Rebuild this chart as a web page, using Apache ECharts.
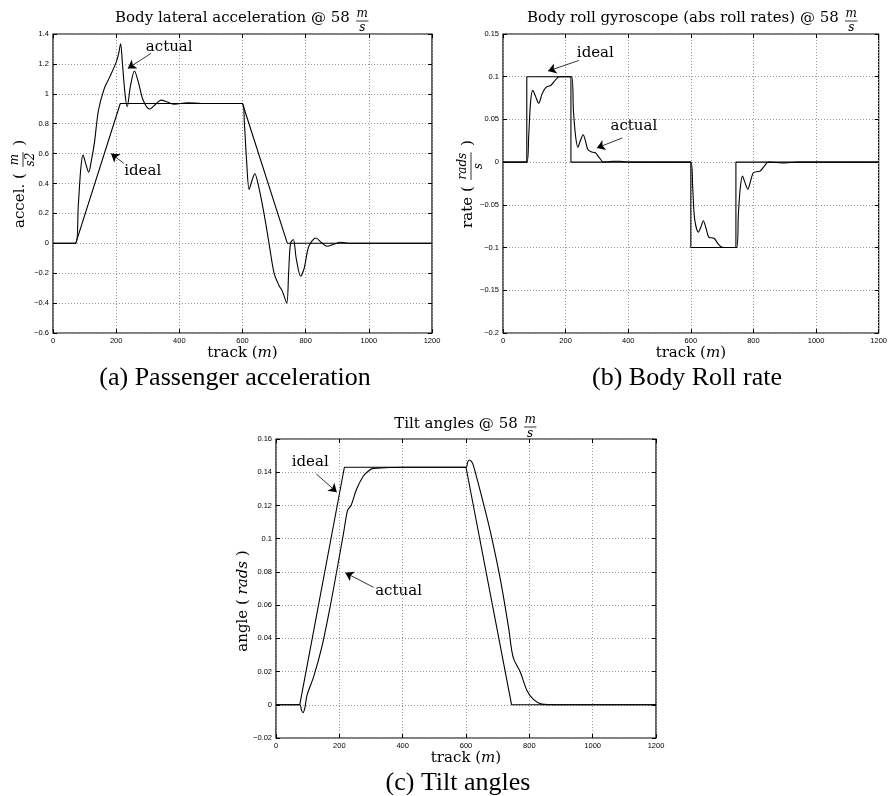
<!DOCTYPE html>
<html><head><meta charset="utf-8">
<script src="https://cdn.jsdelivr.net/npm/echarts@6/dist/echarts.min.js"></script>
<style>html,body{margin:0;padding:0;background:#fff}#c{width:890px;height:796px}</style>
</head><body><div id="c"></div>
<script>
// ---------- data ----------
const accelIdeal = [[0,0],[72,0],[213,0.935],[600,0.935],[742,0],[1200,0]];
const accelActual = [[0,0],[72,0],[80,0.25],[88,0.5],[95,0.59],[104,0.53],[113,0.475],[122,0.56],[131,0.67],[144,0.89],[163,1.04],[179,1.11],[200,1.21],[208,1.27],[214,1.335],[220,1.2],[228,1.0],[235,0.913],[245,1.05],[258,1.153],[270,1.08],[285,0.96],[305,0.898],[325,0.93],[342,0.958],[362,0.945],[384,0.93],[426,0.94],[470,0.935],[600,0.935],[606,0.8],[613,0.55],[621,0.36],[630,0.42],[639,0.465],[650,0.39],[668,0.2],[684,0],[700,-0.2],[715,-0.28],[726,-0.32],[740,-0.4],[746,-0.2],[752,0],[761,0.025],[770,-0.1],[784,-0.22],[795,-0.17],[810,-0.02],[832,0.035],[850,0.005],[868,-0.02],[890,-0.005],[910,0.007],[940,0],[1200,0]];

const rateIdeal = [[0,0],[76,0],[76,0.1],[217,0.1],[217,0],[600,0],[600,-0.1],[744,-0.1],[744,0],[1200,0]];
const rateActual = [[0,0],[76,0],[82,0.03],[88,0.07],[95,0.084],[104,0.077],[114,0.069],[125,0.08],[137,0.0876],[153,0.09],[165,0.095],[179,0.1],[219,0.1],[225,0.06],[232,0.03],[239,0.0174],[247,0.025],[256,0.032],[264,0.024],[271,0.0147],[283,0.012],[295,0.011],[308,0.005],[321,0],[350,0.001],[374,0.001],[405,0],[600,0],[606,-0.03],[612,-0.066],[624,-0.082],[632,-0.076],[640,-0.0686],[649,-0.078],[658,-0.088],[674,-0.089],[686,-0.095],[700,-0.0996],[746,-0.1],[752,-0.06],[758,-0.03],[765,-0.0163],[773,-0.024],[782,-0.0318],[791,-0.022],[800,-0.0124],[821,-0.0105],[834,-0.005],[847,0],[900,-0.001],[940,0],[1200,0]];

const tiltIdeal = [[0,0],[75,0],[216,0.143],[600,0.143],[744,0],[1200,0]];
const tiltActual = [[0,0],[75,0],[80,-0.003],[85,-0.0048],[91,-0.002],[98,0.0058],[119,0.0169],[145,0.035],[171,0.059],[198,0.087],[213,0.103],[226,0.117],[237,0.12],[255,0.13],[276,0.1377],[295,0.1412],[308,0.1423],[413,0.143],[600,0.143],[605,0.146],[611,0.1474],[617,0.1465],[623,0.1443],[650,0.125],[676,0.105],[708,0.076],[734,0.047],[745,0.032],[752,0.0269],[771,0.0199],[792,0.0088],[813,0.0032],[839,0.0004],[886,0],[1200,0]];

// annotations: [text, textX, textY, arrowFromX, arrowFromY, arrowToX, arrowToY]
const accelNotes = [['actual',368,1.31,310,1.27,237,1.17],['ideal',284,0.48,224,0.535,184,0.6]];
const rateNotes = [['ideal',295,0.128,242,0.119,144,0.1066],['actual',418,0.042,381,0.0283,300,0.0167]];
const tiltNotes = [['ideal',108,0.1458,127,0.139,192,0.128],['actual',387,0.0687,308,0.0707,219,0.0795]];

const xRange = [0,1200,200];
const accelRange = [-0.6,1.4,0.2];
const rateRange = [-0.2,0.15,0.05];
const tiltRange = [-0.02,0.16,0.02];

const titles = ['Body lateral acceleration @ 58','Body roll gyroscope (abs roll rates) @ 58','Tilt angles @ 58'];
const captions = ['(a) Passenger acceleration','(b) Body Roll rate','(c) Tilt angles'];

// ---------- layout ----------
const grids = [
  {left:53, top:34, width:379, height:299},
  {left:503, top:34, width:380, height:299},
  {left:276, top:439, width:380, height:299}
];
const SERIF = 'DejaVu Serif';
const cvs = document.createElement('canvas'); const ctx = cvs.getContext('2d');
function tw(t,f){ctx.font=f;return ctx.measureText(t).width;}
function mathLabel(cx, cy, segs, rot){
  const widths = segs.map(s => s.t!==undefined ? tw(s.t,s.font) : Math.max(tw(s.num,s.font),tw(s.den,s.font))+4);
  const total = widths.reduce((a,b)=>a+b,0);
  let x = -total/2; const ch = [];
  segs.forEach((s,i)=>{
    const w = widths[i];
    if (s.t!==undefined){
      ch.push({type:'text',x:x,y:0,style:{text:s.t,font:s.font,fill:'#000',textAlign:'left',textVerticalAlign:'middle',verticalAlign:'middle'}});
    } else {
      const c = x + w/2, d = s.dy||3, o = s.off||6;
      ch.push({type:'text',x:c,y:d-o,style:{text:s.num,font:s.font,fill:'#000',textAlign:'center',textVerticalAlign:'middle',verticalAlign:'middle'}});
      ch.push({type:'line',shape:{x1:x+1.5,y1:d,x2:x+w-1.5,y2:d},style:{stroke:'#000',lineWidth:0.8}});
      ch.push({type:'text',x:c,y:d+o,style:{text:s.den,font:s.font,fill:'#000',textAlign:'center',textVerticalAlign:'middle',verticalAlign:'middle'}});
    }
    x += w;
  });
  return {type:'group',x:cx,y:cy,rotation:rot||0,children:ch};
}
const tFont = '15px "'+SERIF+'"';
const fFont = 'italic 12px "'+SERIF+'"';
const nFont = '15px "'+SERIF+'"';
const nFrac = 'italic 12px "'+SERIF+'"';
const graphics = [];
const titleY = [18,18,424];
grids.forEach((g,i)=>{
  graphics.push(mathLabel(g.left+g.width/2, titleY[i], [{t:titles[i]+' ',font:tFont},{num:'m',den:'s',font:fFont,dy:3,off:7}]));
});
graphics.push(mathLabel(20,184,[{t:'accel. ( ',font:nFont},{num:'m',den:'s2',font:nFrac,dy:3,off:8},{t:' )',font:nFont}],Math.PI/2));
graphics.push(mathLabel(468,184,[{t:'rate ( ',font:nFont},{num:'rads',den:'s',font:nFrac,dy:3,off:8},{t:' )',font:nFont}],Math.PI/2));
graphics.push(mathLabel(243,601,[{t:'angle ( ',font:nFont},{t:'rads',font:'italic 15px "'+SERIF+'"'},{t:' )',font:nFont}],Math.PI/2));

const capTop = [360,360,765];
const capX = [230,682,453];

// ---------- options ----------
const fmt = v => String(+v.toFixed(4)).replace('-','\u2212');
const grid0 = {show:true,lineStyle:{color:'#999',type:[1,2],width:1}};
function xAx(i){return {gridIndex:i,type:'value',min:xRange[0],max:xRange[1],interval:xRange[2],
  name:'track ({i|m})',nameLocation:'middle',nameGap:12,
  nameTextStyle:{fontFamily:SERIF,fontSize:15,color:'#000',rich:{i:{fontFamily:SERIF,fontSize:15,fontStyle:'italic',color:'#000'}}},
  axisLine:{show:false,onZero:false},axisTick:{inside:true,length:4,lineStyle:{color:'#000'}},
  axisLabel:{fontFamily:'Liberation Sans',fontSize:7.5,color:'#000',margin:4,formatter:fmt,showMaxLabel:true,showMinLabel:true},
  splitLine:grid0};}
function xTop(i){return {gridIndex:i,type:'value',position:'top',min:xRange[0],max:xRange[1],interval:xRange[2],
  axisLine:{show:false,onZero:false},axisTick:{inside:true,length:4,lineStyle:{color:'#000'}},
  axisLabel:{show:false},splitLine:{show:false}};}
function yAx(i,r){return {gridIndex:i,type:'value',min:r[0],max:r[1],interval:r[2],
  axisLine:{show:false,onZero:false},axisTick:{inside:true,length:4,lineStyle:{color:'#000'}},
  axisLabel:{fontFamily:'Liberation Sans',fontSize:7.5,color:'#000',margin:4,formatter:fmt},
  splitLine:grid0};}
function yRight(i,r){return {gridIndex:i,type:'value',position:'right',min:r[0],max:r[1],interval:r[2],
  axisLine:{show:false,onZero:false},axisTick:{inside:true,length:4,lineStyle:{color:'#000'}},
  axisLabel:{show:false},splitLine:{show:false}};}
function notes(arr){
  return {
    markLine:{silent:true,animation:false,symbol:['none','arrow'],symbolSize:8,label:{show:false},
      lineStyle:{color:'#000',width:0.8,type:'solid'},
      data:arr.map(a=>[{coord:[a[3],a[4]]},{coord:[a[5],a[6]]}])},
    markPoint:{silent:true,animation:false,symbol:'circle',symbolSize:0,
      label:{show:true,position:'inside',color:'#000',fontFamily:SERIF,fontSize:15,formatter:p=>p.name},
      data:arr.map(a=>({name:a[0],coord:[a[1],a[2]]}))}
  };
}
function ser(i,data,smooth,extra){
  return Object.assign({type:'line',xAxisIndex:i,yAxisIndex:i,data:data,showSymbol:false,smooth:smooth,
    lineStyle:{color:'#000',width:1.1},silent:true,animation:false,z:3},extra||{});
}
const option = {
  backgroundColor:'#fff',
  animation:false,
  grid:grids.map(g=>Object.assign({show:true,borderColor:'#000',borderWidth:1.2,backgroundColor:'transparent'},g)),
  xAxis:[xAx(0),xAx(1),xAx(2),xTop(0),xTop(1),xTop(2)],
  yAxis:[yAx(0,accelRange),yAx(1,rateRange),yAx(2,tiltRange),yRight(0,accelRange),yRight(1,rateRange),yRight(2,tiltRange)],
  title:captions.map((c,i)=>({text:c,left:capX[i],top:capTop[i],textAlign:'center',
    textStyle:{fontFamily:'Liberation Serif',fontSize:26,fontWeight:'normal',color:'#000'}})),
  graphic:graphics,
  series:[
    ser(0,accelIdeal,false),
    ser(0,accelActual,0.3,notes(accelNotes)),
    ser(1,rateIdeal,false),
    ser(1,rateActual,0.3,notes(rateNotes)),
    ser(2,tiltIdeal,false),
    ser(2,tiltActual,0.3,notes(tiltNotes))
  ]
};
const chart = echarts.init(document.getElementById('c'));
chart.setOption(option);
</script></body></html>
